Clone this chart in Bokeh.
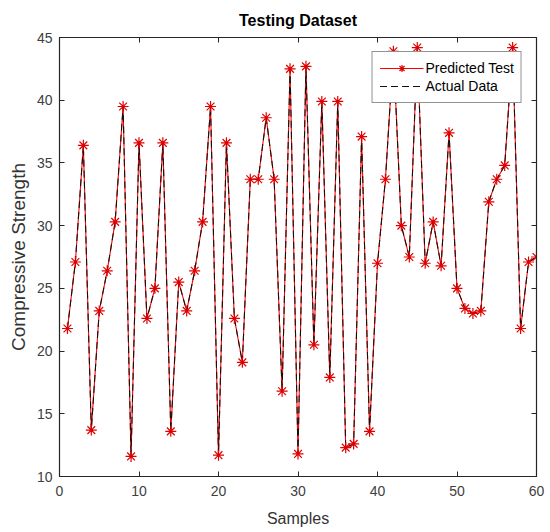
from bokeh.plotting import figure
from bokeh.models import Range1d, FixedTicker, LinearAxis, Legend, LegendItem, ColumnDataSource
from bokeh.embed import file_html
from bokeh.resources import INLINE

samples = list(range(1, 61))
predicted = [21.8, 27.1, 36.4, 13.7, 23.2, 26.4, 30.3, 39.5, 11.6, 36.6,
             22.6, 25.0, 36.6, 13.6, 25.5, 23.2, 26.4, 30.3, 39.5, 11.7,
             36.6, 22.6, 19.1, 33.7, 33.7, 38.6, 33.7, 16.8, 42.5, 11.8,
             42.7, 20.5, 39.9, 17.9, 39.9, 12.3, 12.6, 37.1, 13.6, 27.0,
             33.7, 43.9, 30.0, 27.5, 44.2, 27.0, 30.3, 26.8, 37.4, 25.0,
             23.4, 23.0, 23.2, 31.9, 33.7, 34.8, 44.2, 21.8, 27.1, 27.5]
actual = [21.8, 27.1, 36.4, 13.7, 23.2, 26.4, 30.3, 39.5, 11.6, 36.6,
          22.6, 25.0, 36.6, 13.6, 25.5, 23.2, 26.4, 30.3, 39.5, 11.7,
          36.6, 22.6, 19.1, 33.7, 33.7, 38.6, 33.7, 16.8, 42.5, 11.8,
          42.7, 20.5, 39.9, 17.9, 39.9, 12.3, 12.6, 37.1, 13.6, 27.0,
          33.7, 43.9, 30.0, 27.5, 44.2, 27.0, 30.3, 26.8, 37.4, 25.0,
          23.4, 23.0, 23.2, 31.9, 33.7, 34.8, 44.2, 21.8, 27.1, 27.5]
x_ticks = [0, 10, 20, 30, 40, 50, 60]
y_ticks = [10, 15, 20, 25, 30, 35, 40, 45]

FONT = "Liberation Sans"
AX = "#262626"

src = ColumnDataSource(dict(x=samples, pred=predicted, act=actual))

p = figure(width=550, height=532, output_backend="svg", toolbar_location=None,
           x_range=Range1d(0, 60), y_range=Range1d(10, 45),
           min_border_left=59, min_border_right=14, min_border_top=0, min_border_bottom=56,
           title="Testing Dataset")
p.title.align = "center"
p.title.text_font = FONT
p.title.text_font_size = "16px"
p.title.text_font_style = "bold"
p.title.text_color = "#000000"
p.title.standoff = 18

p.xgrid.visible = False
p.ygrid.visible = False
p.outline_line_color = AX
p.outline_line_width = 1.2

for ax, ticks, label in ((p.xaxis[0], x_ticks, "Samples"), (p.yaxis[0], y_ticks, "Compressive Strength")):
    ax.ticker = FixedTicker(ticks=ticks)
    ax.axis_label = label
    ax.axis_label_text_font = FONT
    ax.axis_label_text_font_style = "normal"
    ax.axis_label_text_color = "#333333"
    ax.major_label_text_font = FONT
    ax.major_label_text_font_size = "14px"
    ax.major_label_text_color = "#404040"
    ax.major_tick_in = 5
    ax.major_tick_out = 0
    ax.minor_tick_line_color = None
    ax.axis_line_color = AX
    ax.major_tick_line_color = AX

p.xaxis[0].axis_label_text_font_size = "16px"
p.xaxis[0].major_label_standoff = 9
p.xaxis[0].axis_label_standoff = 11
p.yaxis[0].axis_label_text_font_size = "19px"
p.yaxis[0].major_label_standoff = 7
p.yaxis[0].axis_label_standoff = 5

for side, ticks in (("above", x_ticks), ("right", y_ticks)):
    extra = LinearAxis(ticker=FixedTicker(ticks=ticks))
    extra.major_label_text_font_size = "1px"
    extra.major_label_text_color = None
    extra.major_label_standoff = 0
    extra.major_tick_in = 5
    extra.major_tick_out = 0
    extra.minor_tick_line_color = None
    extra.axis_line_color = AX
    extra.major_tick_line_color = AX
    p.add_layout(extra, side)

r_line = p.line("x", "pred", source=src, line_color="red", line_width=1.1)
a_line = p.line("x", "act", source=src, line_color="#111111", line_width=1.1, line_dash="7 4")
r_mark = p.scatter("x", "pred", source=src, marker="asterisk", size=11, line_color="#e00000", line_width=1.2)

legend = Legend(items=[LegendItem(label="Predicted Test", renderers=[r_line, r_mark]),
                       LegendItem(label="Actual Data", renderers=[a_line])],
                location="top_right")
legend.margin = 14
legend.padding = 7
legend.spacing = 0
legend.glyph_width = 44
legend.glyph_height = 18
legend.label_standoff = 2
legend.label_text_font = FONT
legend.label_text_font_size = "14px"
legend.label_text_color = "#000000"
legend.label_height = 18
legend.border_line_color = AX
legend.border_line_width = 1
legend.background_fill_alpha = 1
p.add_layout(legend, "center")

open("out.html", "w").write(file_html(p, INLINE))
